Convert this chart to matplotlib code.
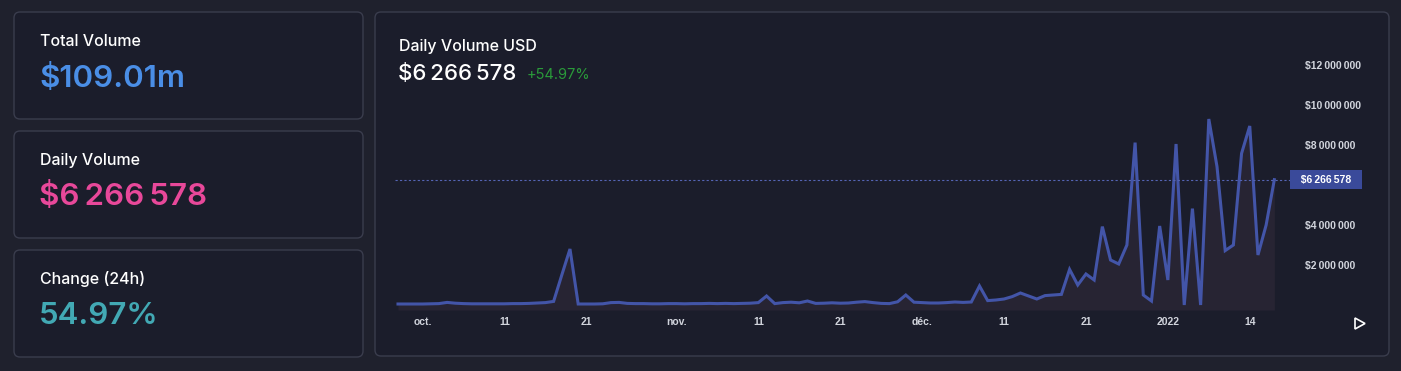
import matplotlib
matplotlib.use("Agg")
import matplotlib.pyplot as plt
import matplotlib.transforms as mtransforms
from matplotlib.patches import FancyBboxPatch, Polygon
import numpy as np

# daily volume in millions USD (one point per bar, 28 sep -> 17 jan)
volume_m = [
    0.05, 0.05, 0.05, 0.05, 0.06, 0.07, 0.13, 0.09, 0.07, 0.06,
    0.06, 0.06, 0.06, 0.06, 0.07, 0.07, 0.08, 0.10, 0.12, 0.18,
    1.50, 2.80, 0.05, 0.05, 0.05, 0.06, 0.12, 0.13, 0.08, 0.07,
    0.07, 0.06, 0.06, 0.07, 0.07, 0.06, 0.07, 0.07, 0.08, 0.07,
    0.08, 0.07, 0.08, 0.09, 0.12, 0.45, 0.07, 0.12, 0.14, 0.11,
    0.20, 0.08, 0.09, 0.11, 0.09, 0.10, 0.14, 0.17, 0.12, 0.08,
    0.07, 0.16, 0.50, 0.14, 0.12, 0.10, 0.10, 0.12, 0.15, 0.13,
    0.15, 0.95, 0.22, 0.25, 0.30, 0.42, 0.60, 0.45, 0.30, 0.47,
    0.50, 0.53, 1.78, 1.00, 1.55, 1.25, 3.92, 2.25, 2.05, 3.00,
    8.12, 0.50, 0.20, 3.95, 1.25, 8.05, 0.00, 4.82, 0.00, 9.30,
    6.92, 2.72, 3.00, 7.58, 8.95, 2.50, 4.00, 6.266578,
]
x_tick_pos = [3, 13, 23, 34, 44, 54, 64, 74, 84, 94, 104]
x_tick_labels = ["oct.", "11", "21", "nov.", "11", "21", "déc.", "11", "21", "2022", "14"]
y_tick_vals = [2, 4, 8, 10, 12]
y_tick_labels = ["$2\u2009000\u2009000", "$4\u2009000\u2009000", "$8\u2009000\u2009000",
                 "$10\u2009000\u2009000", "$12\u2009000\u2009000"]

cards = [
    ("Total Volume", "$109.01m", "#4a8ee6"),
    ("Daily Volume", "$6\u202f266\u202f578", "#e8489a"),
    ("Change (24h)", "54.97%", "#42a9b4"),
]
last_label = "$6\u2009266\u2009578"
head_value = "$6\u202f266\u202f578"
change_label = "+54.97%"

page_bg = "#1f212d"
panel_bg = "#1b1d2b"
border = "#3a3d4d"
line_col = "#4355a8"
tick_col = "#d1d4dc"
small_font = "Liberation Sans"

W, H = 1401, 371
fig = plt.figure(figsize=(W / 100, H / 100), dpi=100)
fig.patch.set_facecolor(page_bg)

# overlay in pixel coordinates for the cards
bg = fig.add_axes([0, 0, 1, 1])
bg.set_xlim(0, W)
bg.set_ylim(H, 0)
bg.axis("off")

def panel(x0, y0, x1, y1):
    p = FancyBboxPatch((x0, y0), x1 - x0, y1 - y0,
                       boxstyle="round,pad=0,rounding_size=6",
                       facecolor=panel_bg, edgecolor=border, linewidth=1.0)
    bg.add_patch(p)

card_y = [(12, 119), (131, 238), (250, 357)]
for (title, val, col), (y0, y1) in zip(cards, card_y):
    panel(14, y0, 363, y1)
    bg.text(40, y0 + 29, title, color="white", fontsize=11.5, family="Inter",
            fontweight="medium", va="center", ha="left")
    bg.text(39, y0 + 66, val, color=col, fontsize=22.5, family="Inter",
            fontweight="semibold", va="center", ha="left")

panel(375, 12, 1389, 356)
bg.text(399, 46, "Daily Volume USD", color="white", fontsize=11.5, family="Inter",
        fontweight="medium", va="center", ha="left")
bg.text(398, 74, head_value, color="white", fontsize=16, family="Inter",
        fontweight="medium", va="center", ha="left")
bg.text(527, 75, change_label, color="#2a9a3a", fontsize=10.5, family="Inter",
        va="center", ha="left")

# play button
bg.add_patch(Polygon([[1355, 318], [1355, 329], [1365, 323.5]], closed=True,
                     fill=False, edgecolor="white", linewidth=1.2))

# chart
left, right, top, bottom = 390, 1290, 50, 310
ax = fig.add_axes([left / W, (H - bottom) / H, (right - left) / W, (bottom - top) / H])
ax.set_facecolor("none")
idx = np.arange(len(volume_m))
x0 = 398.0
dx = 8.19
ax.set_xlim((left - x0) / dx, (right - x0) / dx)
ax.set_ylim(-(bottom - 305) / 20, (305 - top) / 20)

ax.fill_between(idx, volume_m, -0.25, color="#3a3040", alpha=0.4, linewidth=0)
ax.plot(idx, volume_m, color=line_col, linewidth=2.2, solid_joinstyle="miter")

last = volume_m[-1]
ax.axhline(last, xmin=0.006, xmax=1.005, color="#5565b5", linewidth=0.8,
           linestyle=(0, (2, 2)), clip_on=False)
trans = mtransforms.blended_transform_factory(ax.transAxes, ax.transData)
ax.text(1.0055, last, "  " + last_label + "  ", transform=trans, color="white", fontsize=7.5,
        family=small_font, fontweight="bold", va="center", ha="left",
        bbox=dict(boxstyle="square,pad=0.45", facecolor="#3a4a9a", edgecolor="none"))

ax.set_xticks(x_tick_pos)
ax.set_xticklabels(x_tick_labels)
ax.set_yticks(y_tick_vals)
ax.set_yticklabels(y_tick_labels)
ax.yaxis.tick_right()
ax.tick_params(axis="both", length=0, colors=tick_col, labelsize=7.5)
ax.tick_params(axis="y", pad=10.5)
ax.tick_params(axis="x", pad=5)
for lab in ax.get_xticklabels() + ax.get_yticklabels():
    lab.set_family(small_font)
    lab.set_fontweight("bold")
for s in ax.spines.values():
    s.set_visible(False)

fig.savefig("out.png", dpi=100, facecolor=page_bg)
